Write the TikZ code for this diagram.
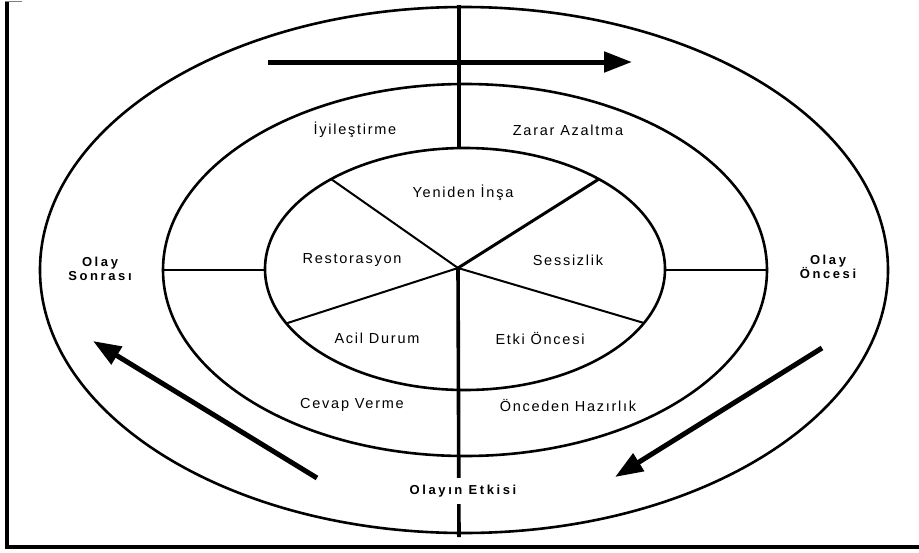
\documentclass[tikz,border=0pt]{standalone}
\usepackage{fontspec}
\setmainfont{Liberation Sans}
\usetikzlibrary{arrows.meta}
\begin{document}
\begin{tikzpicture}[x=1pt,y=-1pt,
  ring/.style={line width=2.6pt},
  spoke/.style={line width=2pt},
  axisline/.style={line width=3.6pt},
  tick/.style={line width=1.5pt},
  flow/.style={line width=5pt,-{Triangle[length=28pt,width=20pt]}},
  lbl/.style={inner sep=1pt,font=\fontsize{14.5}{16}\selectfont\addfontfeature{LetterSpace=12}},
  blbl/.style={inner sep=1pt,align=center,font=\fontsize{13}{14.5}\selectfont\bfseries\addfontfeature{LetterSpace=20}}]
\useasboundingbox (0,0) rectangle (919,552);
\fill[white] (0,0) rectangle (919,552);
% frame (cropped)
\draw[line width=3.5pt] (7,2) -- (7,547) -- (919,547);
\draw[line width=1pt,gray] (5,1) -- (22,1);
% rings
\draw[ring] (464,270) ellipse [x radius=424pt, y radius=263pt];
\draw[ring] (465,270) ellipse [x radius=302pt, y radius=186pt];
\draw[ring] (465,269) ellipse [x radius=200pt, y radius=121pt];
% geometry points
\coordinate (hub) at (458,268);
\coordinate (vtop) at (459,5);
\coordinate (itop) at (459,148);
\coordinate (vbot) at (459,537);
\coordinate (pUL) at (331,179);
\coordinate (pUR) at (599,179);
\coordinate (pLL) at (286,323.5);
\coordinate (pLR) at (644,323);
\coordinate (mL) at (163,270);
\coordinate (iL) at (266,270);
\coordinate (iR) at (665,270);
\coordinate (mR) at (767,270);
% axis and spokes
\draw[axisline] (vtop) -- (itop);
\draw[axisline] (hub) -- (vbot);
\draw[spoke] (hub) -- (pUL);
\draw[spoke,line width=3pt] (hub) -- (pUR);
\draw[spoke] (hub) -- (pLL);
\draw[spoke] (hub) -- (pLR);
\draw[tick] (mL) -- (iL);
\draw[tick] (iR) -- (mR);
% arrows
\coordinate (t1) at (268,62);
\coordinate (t2) at (632,62);
\coordinate (l1) at (317,478);
\coordinate (l2) at (93,341);
\coordinate (r1) at (822,348);
\coordinate (r2) at (615,477);
\draw[flow] (t1) -- (t2);
\draw[flow] (l1) -- (l2);
\draw[flow] (r1) -- (r2);
% labels
\node[lbl] (yen) at (463,193) {Yeniden İnşa};
\node[lbl] (res) at (352,260) {Restorasyon};
\node[lbl] (ses) at (568,260) {Sessizlik};
\node[lbl] (aci) at (377,338) {Acil Durum};
\node[lbl] (etk) at (540,338) {Etki Öncesi};
\node[lbl] (cev) at (352,405) {Cevap Verme};
\node[lbl] (onc) at (568,405) {Önceden Hazırlık};
\node[lbl] (iyi) at (355,130) {İyileştirme};
\node[lbl] (zar) at (568,130) {Zarar Azaltma};
\node[blbl] (son) at (100,269) {Olay\\Sonrası};
\node[blbl] (once) at (828,267) {Olay\\Öncesi};
\node[blbl,fill=white,minimum width=150pt,minimum height=26pt] (etkisi) at (463,491) {Olayın Etkisi};
\end{tikzpicture}
\end{document}
